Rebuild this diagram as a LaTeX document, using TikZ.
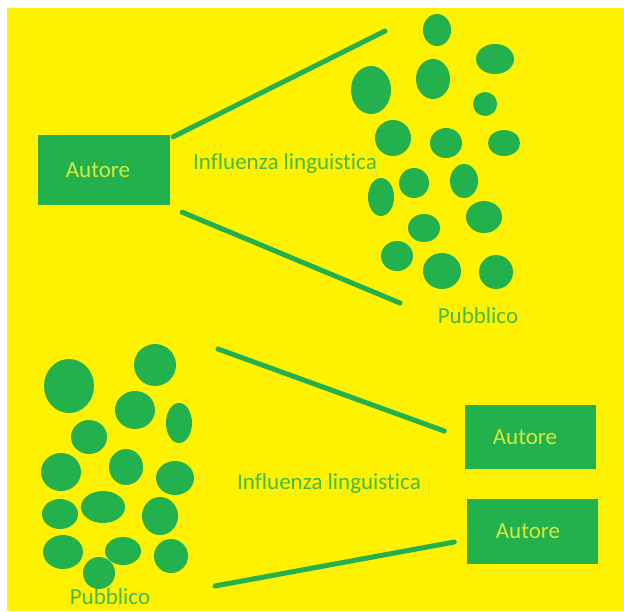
\documentclass[tikz,border=0pt]{standalone}
\usepackage{fontspec}
\setmainfont{Carlito}[RawFeature=-liga]
\usepackage{tikz}
\usetikzlibrary{positioning, calc}

\definecolor{paintyellow}{RGB}{255,242,0}
\definecolor{paintgreen}{RGB}{34,177,76}
\definecolor{boxtext}{RGB}{214,234,60}

\begin{document}
\begin{tikzpicture}[
    x=1pt, y=-1pt,
    every node/.style={inner sep=0pt, font=\fontsize{23}{27}\selectfont},
    autbox/.style={fill=paintgreen, text=boxtext,
                   minimum width=132pt, minimum height=70pt},
    lbl/.style={text=paintgreen!85!paintyellow, anchor=base},
    link/.style={draw=paintgreen, line width=5pt, line cap=round},
    blob/.style={fill=paintgreen},
  ]

  %% --- page and background ------------------------------------------------
  \useasboundingbox (0,0) rectangle (624,611);
  \fill[white] (0,0) rectangle (624,611);
  \fill[paintyellow] (7,8) rectangle (624,611);

  %% --- upper half: one author, many readers --------------------------------
  \node[autbox] (autore) at (104,170) {Autore\hspace*{12pt}};
  \node[lbl] (influsu) at (285,169) {Influenza linguistica};
  \node[lbl] (pubsu) at (478,323) {Pubblico};

  \coordinate (pubsuA) at (385,31);
  \coordinate (pubsuB) at (400,303);

  % readers
  \foreach \x/\y/\rx/\ry in {437/30/14/16, 495/59/19/15, 371/90/20/24,
      433/79/17/20, 485/104/12/12, 393/138/18/18, 446/143/16/15,
      504/143/16/13, 381/197/13/19, 414/183/15/15, 464/181/14/17,
      424/228/16/14, 484/217/18/16, 397/256/16/15, 442/271/19/18,
      496/272/17/17}
    \fill[blob] (\x,\y) ellipse ({\rx} and {\ry});

  \draw[link] ([shift={(3,2)}]autore.north east) -- (pubsuA);
  \draw[link] ([shift={(12,7)}]autore.south east) -- (pubsuB);

  %% --- lower half: many readers, the authors -------------------------------
  \node[autbox, minimum width=131pt, minimum height=64pt] (autoreA) at (530,437) {Autore\hspace*{10pt}};
  \node[autbox, minimum width=131pt, minimum height=65pt] (autoreB) at (532,531.5) {Autore\hspace*{8pt}};
  \node[lbl] (inflgiu) at (329,489) {Influenza linguistica};
  \node[lbl] (pubgiu) at (110,604) {Pubblico};

  \coordinate (pubgiuA) at (218,349);
  \coordinate (pubgiuB) at (215,586);

  % readers
  \foreach \x/\y/\rx/\ry in {69/386/25/27, 155/365/21/21, 135/410/20/19,
      179/423/13/20, 89/437/18/17, 61/472/20/19, 126/467/17/18,
      175/478/19/17, 60/514/18/15, 103/507/22/16, 160/516/18/19,
      63/552/20/17, 123/551/18/14, 171/556/17/17, 99/573/16/16}
    \fill[blob] (\x,\y) ellipse ({\rx} and {\ry});

  \draw[link] (pubgiuA) -- ([shift={(-20,-6)}]autoreA.west);
  \draw[link] (pubgiuB) -- ([shift={(-12,10.5)}]autoreB.west);

\end{tikzpicture}
\end{document}
